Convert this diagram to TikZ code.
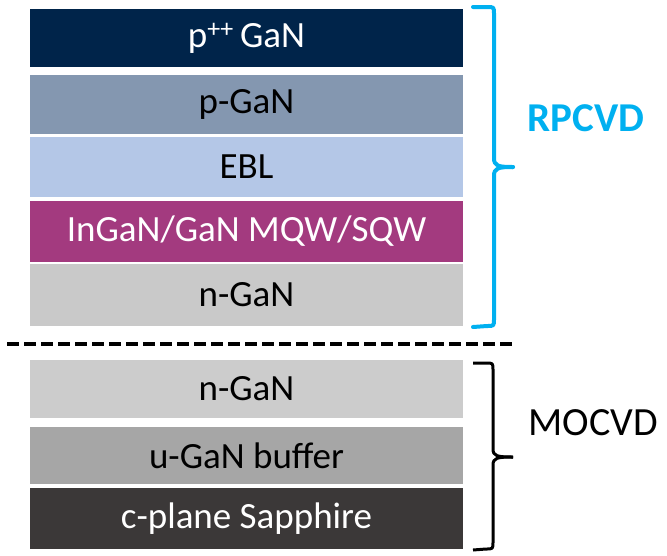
\documentclass[tikz,border=0pt]{standalone}
\usepackage{fontspec}
\setmainfont{Carlito}
\definecolor{cnavy}{HTML}{00244A}
\definecolor{cpgan}{HTML}{8497B0}
\definecolor{cebl}{HTML}{B4C7E7}
\definecolor{cmqw}{HTML}{A33A7F}
\definecolor{cngan}{HTML}{C9C9C9}
\definecolor{cngantwo}{HTML}{CCCCCC}
\definecolor{cugan}{HTML}{A6A6A6}
\definecolor{csapph}{HTML}{3B3838}
\definecolor{cblue}{HTML}{00B0F0}
\tikzset{
  layer/.style={rectangle, inner sep=0pt, minimum width=433pt, font=\fontsize{37}{42}\selectfont},
  bracepath/.style={line width=4pt, line cap=round, line join=round},
  sepline/.style={line width=4pt, dash pattern=on 12pt off 5pt}
}
\begin{document}
\begin{tikzpicture}[x=1pt,y=-1pt]
\useasboundingbox (0,0) rectangle (667,555);
\node[layer, fill=cnavy, text=white, minimum height=58pt] (l1) at (246.5,38) {p\textsuperscript{++}\,GaN};
\node[layer, fill=cpgan, text=black, minimum height=59pt] (l2) at (246.5,104.5) {p-GaN};
\node[layer, fill=cebl, text=black, minimum height=60pt] (l3) at (246.5,167) {EBL};
\node[layer, fill=cmqw, text=white, minimum height=61pt] (l4) at (246.5,231.5) {InGaN/GaN MQW/SQW};
\node[layer, fill=cngan, text=black, minimum height=62pt] (l5) at (246.5,295) {n-GaN};
\node[layer, fill=cngantwo, text=black, minimum height=58pt] (l6) at (246.5,389) {n-GaN};
\node[layer, fill=cugan, text=black, minimum height=57pt] (l7) at (246.5,455.5) {u-GaN buffer};
\node[layer, fill=csapph, text=white, minimum height=61pt] (l8) at (246.5,518.5) {c-plane Sapphire};
% dashed separator
\coordinate (dl) at (7,344);
\coordinate (dr) at (513,344);
\draw[sepline] (dl) -- (dr);
% RPCVD brace
\draw[bracepath, cblue] (473,7) -- (487,7) .. controls (494,7) .. (494,14) -- (494,158)
  .. controls (494,166) and (498,167) .. (513,167);
\draw[bracepath, cblue] (513,167) .. controls (498,167) and (494,168) .. (494,176) -- (494,319)
  .. controls (494,326) .. (487,326) -- (473,327);
\node[font=\fontsize{41}{46}\selectfont\bfseries, text=cblue] (rp) at (586,118) {RPCVD};
% MOCVD brace
\draw[line width=3pt, line join=round, black] (473,363) -- (486,363) .. controls (493,363) .. (493,370) -- (493,449)
  .. controls (493,456) and (497,457) .. (513,457);
\draw[line width=3pt, line join=round, black] (513,457) .. controls (497,457) and (493,458) .. (493,465) -- (493,542)
  .. controls (493,549) .. (486,549) -- (473,550);
\node[font=\fontsize{40}{45}\selectfont, text=black] (mo) at (593,423) {MOCVD};
\end{tikzpicture}
\end{document}
